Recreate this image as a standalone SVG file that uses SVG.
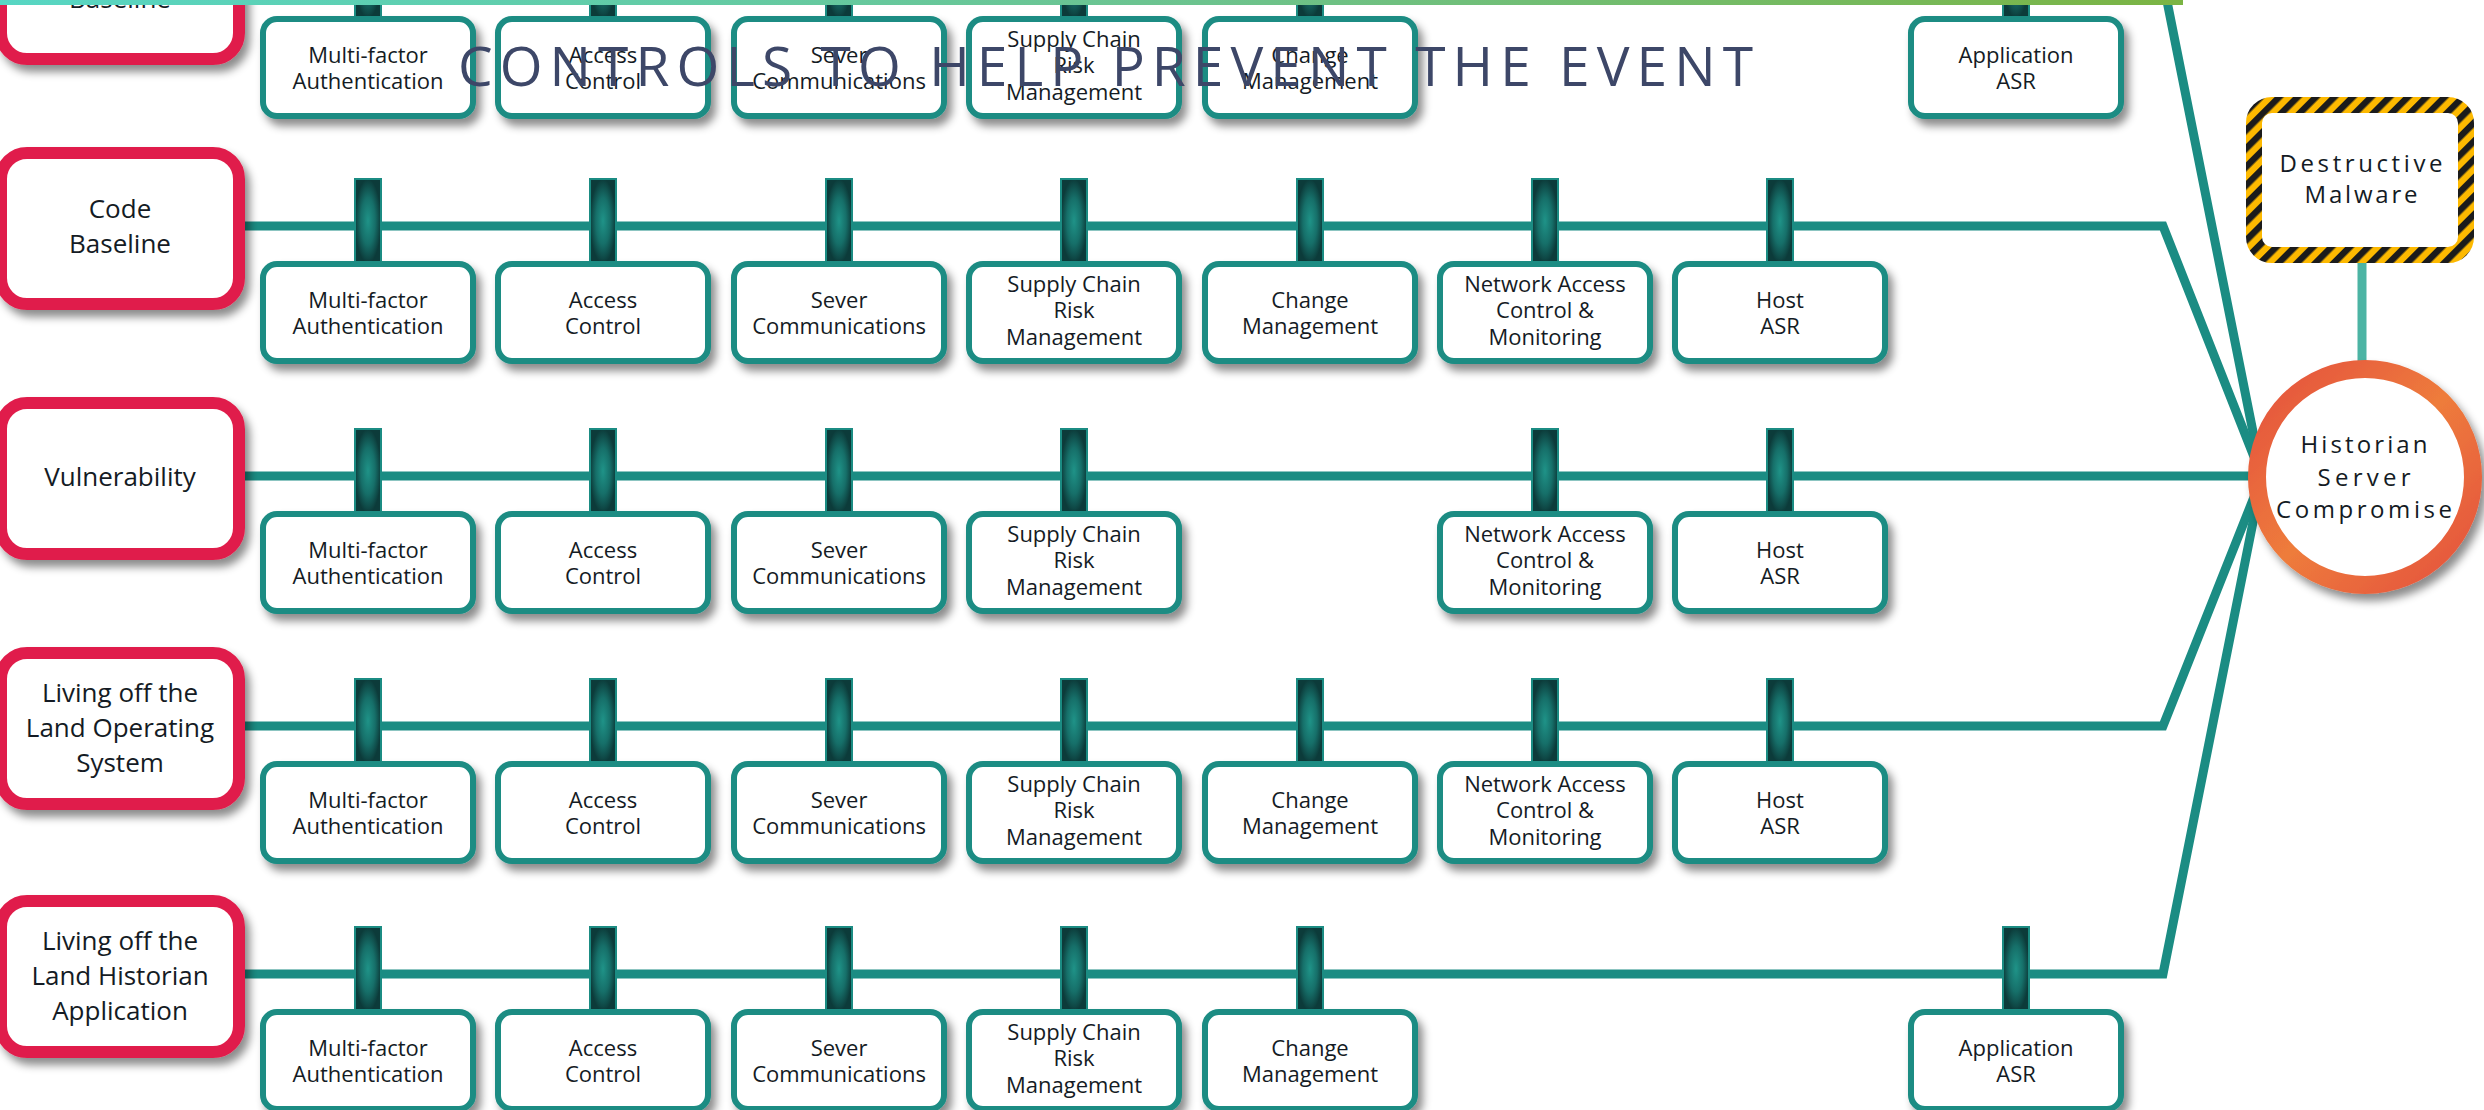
<svg xmlns="http://www.w3.org/2000/svg" width="2484" height="1110" viewBox="0 0 2484 1110">
  <defs>
    <linearGradient id="barGrad" x1="0" y1="0" x2="1" y2="0">
      <stop offset="0" stop-color="#57d6c3"/>
      <stop offset="0.55" stop-color="#6cc38e"/>
      <stop offset="1" stop-color="#7bb443"/>
    </linearGradient>
    <radialGradient id="stubGrad" cx="0.5" cy="0.5" r="0.5">
      <stop offset="0" stop-color="#1f9388"/>
      <stop offset="0.55" stop-color="#166f69"/>
      <stop offset="1" stop-color="#0c3b3a"/>
    </radialGradient>
    <linearGradient id="ringGrad" x1="0" y1="0" x2="1" y2="1">
      <stop offset="0" stop-color="#e4503f"/>
      <stop offset="0.5" stop-color="#ee7c3b"/>
      <stop offset="1" stop-color="#e4503f"/>
    </linearGradient>
    <pattern id="hazard" patternUnits="userSpaceOnUse" width="13" height="13" patternTransform="rotate(45)">
      <rect x="0" y="0" width="13" height="13" fill="#fdb900"/>
      <rect x="0" y="0" width="6.5" height="13" fill="#1b1b1b"/>
    </pattern>
    <filter id="shadow" x="-20%" y="-20%" width="150%" height="160%">
      <feDropShadow dx="5" dy="7" stdDeviation="4" flood-color="#000" flood-opacity="0.45"/>
    </filter>
  </defs>
  <style>
    text { font-family: "Open Sans", "Liberation Sans", sans-serif; fill: #141b24; }
    .threat rect { fill: #fff; stroke: #e01f4b; stroke-width: 12; filter: url(#shadow); }
    .threat text { font-size: 26px; text-anchor: middle; }
    .ctl .stub { fill: url(#stubGrad); stroke: #1b8c83; stroke-width: 2; }
    .ctl .box { fill: #fff; stroke: #1b8c83; stroke-width: 6; filter: url(#shadow); }
    .ctl text { font-size: 22px; text-anchor: middle; }
    .wire { fill: none; stroke: #1b8c83; stroke-width: 9; stroke-linejoin: miter; }
    .link { fill: none; stroke: #4cb4a4; stroke-width: 9; }
    .big text { font-size: 24px; text-anchor: middle; }
  </style>

  <rect width="2484" height="1110" fill="#fff"/>

  <!-- connectors -->
  <g id="connectors">
    <path class="wire" d="M120 -19 H2163 L2262 477"/>
    <path class="wire" d="M120 226 H2163 L2262 477"/>
    <path class="wire" d="M120 476 H2262"/>
    <path class="wire" d="M120 726 H2163 L2262 477"/>
    <path class="wire" d="M120 974 H2163 L2262 477"/>
    <path class="link" d="M2362 262 V372"/>
  </g>

  <!-- row 0 -->
  <g id="threat-r0" class="threat" transform="translate(0,-19)">
    <rect x="1" y="-73" width="238" height="151" rx="26"/>
    <text x="120" y="27">Baseline</text>
  </g>
  <g id="r0-mfa" class="ctl" transform="translate(368,-19)">
    <rect class="stub" x="-13" y="-47" width="26" height="84"/>
    <rect class="box" x="-105" y="38" width="210" height="97" rx="14"/>
    <text y="82">Multi-factor</text><text y="108">Authentication</text>
  </g>
  <g id="r0-access" class="ctl" transform="translate(603,-19)">
    <rect class="stub" x="-13" y="-47" width="26" height="84"/>
    <rect class="box" x="-105" y="38" width="210" height="97" rx="14"/>
    <text y="82">Access</text><text y="108">Control</text>
  </g>
  <g id="r0-sever" class="ctl" transform="translate(839,-19)">
    <rect class="stub" x="-13" y="-47" width="26" height="84"/>
    <rect class="box" x="-105" y="38" width="210" height="97" rx="14"/>
    <text y="82">Sever</text><text y="108">Communications</text>
  </g>
  <g id="r0-supply" class="ctl" transform="translate(1074,-19)">
    <rect class="stub" x="-13" y="-47" width="26" height="84"/>
    <rect class="box" x="-105" y="38" width="210" height="97" rx="14"/>
    <text y="66">Supply Chain</text><text y="92">Risk</text><text y="119">Management</text>
  </g>
  <g id="r0-change" class="ctl" transform="translate(1310,-19)">
    <rect class="stub" x="-13" y="-47" width="26" height="84"/>
    <rect class="box" x="-105" y="38" width="210" height="97" rx="14"/>
    <text y="82">Change</text><text y="108">Management</text>
  </g>
  <g id="r0-app" class="ctl" transform="translate(2016,-19)">
    <rect class="stub" x="-13" y="-47" width="26" height="84"/>
    <rect class="box" x="-105" y="38" width="210" height="97" rx="14"/>
    <text y="82">Application</text><text y="108">ASR</text>
  </g>

  <!-- row 1 -->
  <g id="threat-code-baseline" class="threat" transform="translate(0,226)">
    <rect x="1" y="-73" width="238" height="151" rx="26"/>
    <text x="120" y="-8">Code</text><text x="120" y="27">Baseline</text>
  </g>
  <g id="r1-mfa" class="ctl" transform="translate(368,226)">
    <rect class="stub" x="-13" y="-47" width="26" height="84"/>
    <rect class="box" x="-105" y="38" width="210" height="97" rx="14"/>
    <text y="82">Multi-factor</text><text y="108">Authentication</text>
  </g>
  <g id="r1-access" class="ctl" transform="translate(603,226)">
    <rect class="stub" x="-13" y="-47" width="26" height="84"/>
    <rect class="box" x="-105" y="38" width="210" height="97" rx="14"/>
    <text y="82">Access</text><text y="108">Control</text>
  </g>
  <g id="r1-sever" class="ctl" transform="translate(839,226)">
    <rect class="stub" x="-13" y="-47" width="26" height="84"/>
    <rect class="box" x="-105" y="38" width="210" height="97" rx="14"/>
    <text y="82">Sever</text><text y="108">Communications</text>
  </g>
  <g id="r1-supply" class="ctl" transform="translate(1074,226)">
    <rect class="stub" x="-13" y="-47" width="26" height="84"/>
    <rect class="box" x="-105" y="38" width="210" height="97" rx="14"/>
    <text y="66">Supply Chain</text><text y="92">Risk</text><text y="119">Management</text>
  </g>
  <g id="r1-change" class="ctl" transform="translate(1310,226)">
    <rect class="stub" x="-13" y="-47" width="26" height="84"/>
    <rect class="box" x="-105" y="38" width="210" height="97" rx="14"/>
    <text y="82">Change</text><text y="108">Management</text>
  </g>
  <g id="r1-network" class="ctl" transform="translate(1545,226)">
    <rect class="stub" x="-13" y="-47" width="26" height="84"/>
    <rect class="box" x="-105" y="38" width="210" height="97" rx="14"/>
    <text y="66">Network Access</text><text y="92">Control &amp;</text><text y="119">Monitoring</text>
  </g>
  <g id="r1-host" class="ctl" transform="translate(1780,226)">
    <rect class="stub" x="-13" y="-47" width="26" height="84"/>
    <rect class="box" x="-105" y="38" width="210" height="97" rx="14"/>
    <text y="82">Host</text><text y="108">ASR</text>
  </g>

  <!-- row 2 -->
  <g id="threat-vulnerability" class="threat" transform="translate(0,476)">
    <rect x="1" y="-73" width="238" height="151" rx="26"/>
    <text x="120" y="10">Vulnerability</text>
  </g>
  <g id="r2-mfa" class="ctl" transform="translate(368,476)">
    <rect class="stub" x="-13" y="-47" width="26" height="84"/>
    <rect class="box" x="-105" y="38" width="210" height="97" rx="14"/>
    <text y="82">Multi-factor</text><text y="108">Authentication</text>
  </g>
  <g id="r2-access" class="ctl" transform="translate(603,476)">
    <rect class="stub" x="-13" y="-47" width="26" height="84"/>
    <rect class="box" x="-105" y="38" width="210" height="97" rx="14"/>
    <text y="82">Access</text><text y="108">Control</text>
  </g>
  <g id="r2-sever" class="ctl" transform="translate(839,476)">
    <rect class="stub" x="-13" y="-47" width="26" height="84"/>
    <rect class="box" x="-105" y="38" width="210" height="97" rx="14"/>
    <text y="82">Sever</text><text y="108">Communications</text>
  </g>
  <g id="r2-supply" class="ctl" transform="translate(1074,476)">
    <rect class="stub" x="-13" y="-47" width="26" height="84"/>
    <rect class="box" x="-105" y="38" width="210" height="97" rx="14"/>
    <text y="66">Supply Chain</text><text y="92">Risk</text><text y="119">Management</text>
  </g>
  <g id="r2-network" class="ctl" transform="translate(1545,476)">
    <rect class="stub" x="-13" y="-47" width="26" height="84"/>
    <rect class="box" x="-105" y="38" width="210" height="97" rx="14"/>
    <text y="66">Network Access</text><text y="92">Control &amp;</text><text y="119">Monitoring</text>
  </g>
  <g id="r2-host" class="ctl" transform="translate(1780,476)">
    <rect class="stub" x="-13" y="-47" width="26" height="84"/>
    <rect class="box" x="-105" y="38" width="210" height="97" rx="14"/>
    <text y="82">Host</text><text y="108">ASR</text>
  </g>

  <!-- row 3 -->
  <g id="threat-lotl-os" class="threat" transform="translate(0,726)">
    <rect x="1" y="-73" width="238" height="151" rx="26"/>
    <text x="120" y="-24">Living off the</text><text x="120" y="11">Land Operating</text><text x="120" y="46">System</text>
  </g>
  <g id="r3-mfa" class="ctl" transform="translate(368,726)">
    <rect class="stub" x="-13" y="-47" width="26" height="84"/>
    <rect class="box" x="-105" y="38" width="210" height="97" rx="14"/>
    <text y="82">Multi-factor</text><text y="108">Authentication</text>
  </g>
  <g id="r3-access" class="ctl" transform="translate(603,726)">
    <rect class="stub" x="-13" y="-47" width="26" height="84"/>
    <rect class="box" x="-105" y="38" width="210" height="97" rx="14"/>
    <text y="82">Access</text><text y="108">Control</text>
  </g>
  <g id="r3-sever" class="ctl" transform="translate(839,726)">
    <rect class="stub" x="-13" y="-47" width="26" height="84"/>
    <rect class="box" x="-105" y="38" width="210" height="97" rx="14"/>
    <text y="82">Sever</text><text y="108">Communications</text>
  </g>
  <g id="r3-supply" class="ctl" transform="translate(1074,726)">
    <rect class="stub" x="-13" y="-47" width="26" height="84"/>
    <rect class="box" x="-105" y="38" width="210" height="97" rx="14"/>
    <text y="66">Supply Chain</text><text y="92">Risk</text><text y="119">Management</text>
  </g>
  <g id="r3-change" class="ctl" transform="translate(1310,726)">
    <rect class="stub" x="-13" y="-47" width="26" height="84"/>
    <rect class="box" x="-105" y="38" width="210" height="97" rx="14"/>
    <text y="82">Change</text><text y="108">Management</text>
  </g>
  <g id="r3-network" class="ctl" transform="translate(1545,726)">
    <rect class="stub" x="-13" y="-47" width="26" height="84"/>
    <rect class="box" x="-105" y="38" width="210" height="97" rx="14"/>
    <text y="66">Network Access</text><text y="92">Control &amp;</text><text y="119">Monitoring</text>
  </g>
  <g id="r3-host" class="ctl" transform="translate(1780,726)">
    <rect class="stub" x="-13" y="-47" width="26" height="84"/>
    <rect class="box" x="-105" y="38" width="210" height="97" rx="14"/>
    <text y="82">Host</text><text y="108">ASR</text>
  </g>

  <!-- row 4 -->
  <g id="threat-lotl-historian" class="threat" transform="translate(0,974)">
    <rect x="1" y="-73" width="238" height="151" rx="26"/>
    <text x="120" y="-24">Living off the</text><text x="120" y="11">Land Historian</text><text x="120" y="46">Application</text>
  </g>
  <g id="r4-mfa" class="ctl" transform="translate(368,974)">
    <rect class="stub" x="-13" y="-47" width="26" height="84"/>
    <rect class="box" x="-105" y="38" width="210" height="97" rx="14"/>
    <text y="82">Multi-factor</text><text y="108">Authentication</text>
  </g>
  <g id="r4-access" class="ctl" transform="translate(603,974)">
    <rect class="stub" x="-13" y="-47" width="26" height="84"/>
    <rect class="box" x="-105" y="38" width="210" height="97" rx="14"/>
    <text y="82">Access</text><text y="108">Control</text>
  </g>
  <g id="r4-sever" class="ctl" transform="translate(839,974)">
    <rect class="stub" x="-13" y="-47" width="26" height="84"/>
    <rect class="box" x="-105" y="38" width="210" height="97" rx="14"/>
    <text y="82">Sever</text><text y="108">Communications</text>
  </g>
  <g id="r4-supply" class="ctl" transform="translate(1074,974)">
    <rect class="stub" x="-13" y="-47" width="26" height="84"/>
    <rect class="box" x="-105" y="38" width="210" height="97" rx="14"/>
    <text y="66">Supply Chain</text><text y="92">Risk</text><text y="119">Management</text>
  </g>
  <g id="r4-change" class="ctl" transform="translate(1310,974)">
    <rect class="stub" x="-13" y="-47" width="26" height="84"/>
    <rect class="box" x="-105" y="38" width="210" height="97" rx="14"/>
    <text y="82">Change</text><text y="108">Management</text>
  </g>
  <g id="r4-app" class="ctl" transform="translate(2016,974)">
    <rect class="stub" x="-13" y="-47" width="26" height="84"/>
    <rect class="box" x="-105" y="38" width="210" height="97" rx="14"/>
    <text y="82">Application</text><text y="108">ASR</text>
  </g>

  <!-- event and hazard -->
  <g id="destructive-malware" class="big">
    <rect x="2254" y="105" width="212" height="150" rx="18" fill="#fff" stroke="url(#hazard)" stroke-width="16"/>
    <text x="2361" y="172" textLength="163" lengthAdjust="spacing">Destructive</text>
    <text x="2361" y="203" textLength="113" lengthAdjust="spacing">Malware</text>
  </g>
  <g id="historian-server-compromise" class="big">
    <circle cx="2365" cy="477" r="108" fill="#fff" stroke="url(#ringGrad)" stroke-width="18" filter="url(#shadow)"/>
    <text x="2364" y="453" textLength="127" lengthAdjust="spacing">Historian</text>
    <text x="2364" y="486" textLength="93" lengthAdjust="spacing">Server</text>
    <text x="2364" y="518" textLength="176" lengthAdjust="spacing">Compromise</text>
  </g>

  <!-- heading and top band -->
  <text id="title" x="458" y="86" font-size="55" style="fill:#3d4768" textLength="1295" lengthAdjust="spacing">CONTROLS TO HELP PREVENT THE EVENT</text>
  <rect id="top-band" x="0" y="0" width="2183" height="5" fill="url(#barGrad)"/>
</svg>
